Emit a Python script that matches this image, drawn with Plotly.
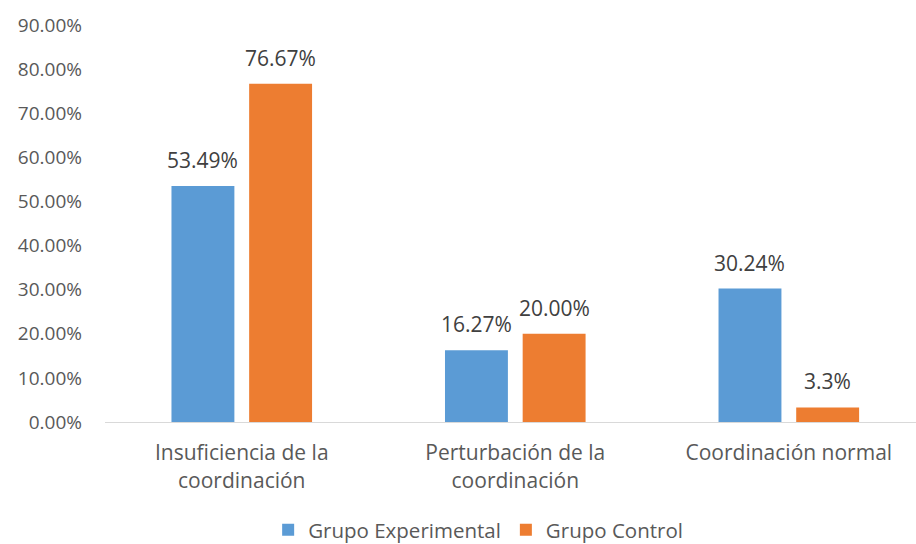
import plotly.graph_objects as go

categories = ["Insuficiencia de la<br>coordinación", "Perturbación de la<br>coordinación", "Coordinación normal"]
series_names = ["Grupo Experimental", "Grupo Control"]
experimental = [0.5349, 0.1627, 0.3024]
control = [0.7667, 0.2000, 0.033]
exp_labels = ["53.49%", "16.27%", "30.24%"]
ctl_labels = ["76.67%", "20.00%", "3.3%"]
y_ticks = [0, 0.1, 0.2, 0.3, 0.4, 0.5, 0.6, 0.7, 0.8, 0.9]

colors = ["#5B9BD5", "#ED7D31"]
xpos = list(range(len(categories)))
bw = 0.23
offsets = [-0.257, 0.027]
FONT = "Open Sans, DejaVu Sans, sans-serif"

fig = go.Figure()
annotations = []
for name, vals, labs, col, off in zip(series_names, [experimental, control], [exp_labels, ctl_labels], colors, offsets):
    fig.add_trace(go.Bar(x=xpos, y=vals, name=name, marker=dict(color=col, line=dict(width=0)),
                         width=bw, offset=off))
    for xi, v, t in zip(xpos, vals, labs):
        annotations.append(dict(x=xi + off + bw / 2, y=v, text=t, showarrow=False,
                                yshift=26, yanchor="middle", xanchor="center",
                                font=dict(size=21, color="#404040", family=FONT)))

fig.update_layout(
    width=916, height=544,
    margin=dict(l=105, r=0, t=25, b=122, autoexpand=False),
    paper_bgcolor="white", plot_bgcolor="white",
    font=dict(family=FONT, size=20, color="#595959"),
    barmode="overlay",
    showlegend=True,
    legend=dict(orientation="h", xref="container", yref="paper", x=0.522, xanchor="center",
                y=-0.272, yanchor="middle",
                font=dict(size=20.5, color="#595959", family=FONT), itemwidth=30,
                tracegroupgap=0),
    annotations=annotations,
)
fig.update_xaxes(range=[-0.5, 2.465], tickmode="array", tickvals=xpos, ticktext=categories,
                 showline=True, linecolor="#D9D9D9", linewidth=1, showgrid=False, zeroline=False,
                 ticks="", ticklabelstandoff=12, automargin=False,
                 tickfont=dict(size=21, color="#595959", family=FONT))
fig.update_yaxes(range=[0, 0.9], tickmode="array", tickvals=y_ticks,
                 ticktext=[f"{v*100:.2f}%" for v in y_ticks],
                 showgrid=False, zeroline=False, showline=False, ticks="", automargin=False,
                 ticklabelstandoff=22, tickfont=dict(size=19, color="#595959", family=FONT))

fig.write_html("out.html", post_script="document.body.style.margin='0';",
               config={"displayModeBar": False})
